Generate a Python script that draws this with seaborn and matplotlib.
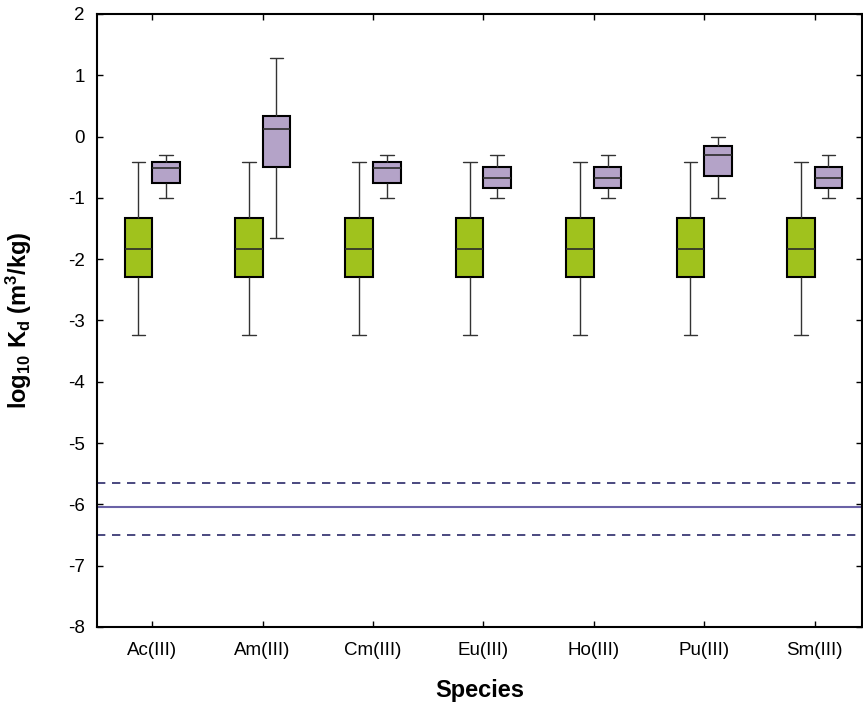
import pandas as pd
import matplotlib
matplotlib.use("Agg")
import matplotlib.pyplot as plt
import seaborn as sns

# five-number summaries: whisker low, q1, median, q3, whisker high
species = ["Ac(III)", "Am(III)", "Cm(III)", "Eu(III)", "Ho(III)", "Pu(III)", "Sm(III)"]

low_stats = [-3.23, -2.29, -1.83, -1.32, -0.41]   # same for every species

high_stats = {
    "Ac(III)": [-1.00, -0.75, -0.52, -0.41, -0.30],
    "Am(III)": [-1.66, -0.49, 0.13, 0.33, 1.29],
    "Cm(III)": [-1.00, -0.75, -0.52, -0.41, -0.30],
    "Eu(III)": [-1.00, -0.84, -0.68, -0.49, -0.30],
    "Ho(III)": [-1.00, -0.84, -0.68, -0.49, -0.30],
    "Pu(III)": [-1.00, -0.65, -0.30, -0.15, 0.00],
    "Sm(III)": [-1.00, -0.84, -0.68, -0.49, -0.30],
}

ref_line = -6.04
ref_lower = -6.50
ref_upper = -5.65

rows = []
for sp in species:
    for v in low_stats:
        rows.append({"species": sp, "group": "low", "logKd": v})
    for v in high_stats[sp]:
        rows.append({"species": sp, "group": "high", "logKd": v})
df = pd.DataFrame(rows)

sns.set_style("ticks")
plt.rcParams["font.family"] = ["Liberation Sans", "DejaVu Sans"]
plt.rcParams["axes.unicode_minus"] = False
plt.rcParams["text.color"] = "black"
plt.rcParams["axes.labelcolor"] = "black"
plt.rcParams["mathtext.fontset"] = "custom"
plt.rcParams["mathtext.rm"] = "Liberation Sans"
plt.rcParams["mathtext.it"] = "Liberation Sans"
plt.rcParams["mathtext.bf"] = "Liberation Sans:bold"

fig = plt.figure(figsize=(8.63, 7.07), dpi=100)
ax = fig.add_axes([0.1124, 0.1132, 0.8866, 0.8670])

ax.axhline(ref_upper, color="#2b2a6a", lw=1.2, ls=(0, (5, 4)), zorder=1)
ax.axhline(ref_line, color="#6a62a6", lw=1.5, zorder=1)
ax.axhline(ref_lower, color="#2b2a6a", lw=1.2, ls=(0, (5, 4)), zorder=1)

sns.boxplot(
    data=df, x="species", y="logKd", hue="group",
    order=species, hue_order=["low", "high"],
    palette={"low": "#a0c21d", "high": "#b4a3c8"},
    width=0.5, gap=0, whis=(0, 100), showfliers=False,
    legend=False, saturation=1, ax=ax,
    boxprops={"edgecolor": "black", "linewidth": 1.5},
    whiskerprops={"color": "#333333", "linewidth": 1.0},
    capprops={"color": "#333333", "linewidth": 1.0},
    medianprops={"color": "#2a2a2a", "linewidth": 1.2},
)

ax.set_xlim(-0.5, 6.43)
ax.set_ylim(-8, 2)
ax.set_yticks(range(-8, 3))
ax.tick_params(direction="in", top=True, right=True, length=4, width=1,
               labelsize=13.5, colors="black")
ax.tick_params(axis="x", pad=11)
ax.tick_params(axis="y", pad=9)
for s in ax.spines.values():
    s.set_linewidth(1.5)
    s.set_color("black")

ax.set_xlabel("Species", fontsize=17, fontweight="bold", labelpad=14)
ax.set_ylabel(r"$\mathbf{log_{10}\ K_d\ (m^3/kg)}$", fontsize=17, labelpad=24)

fig.savefig("out.png", dpi=100)
